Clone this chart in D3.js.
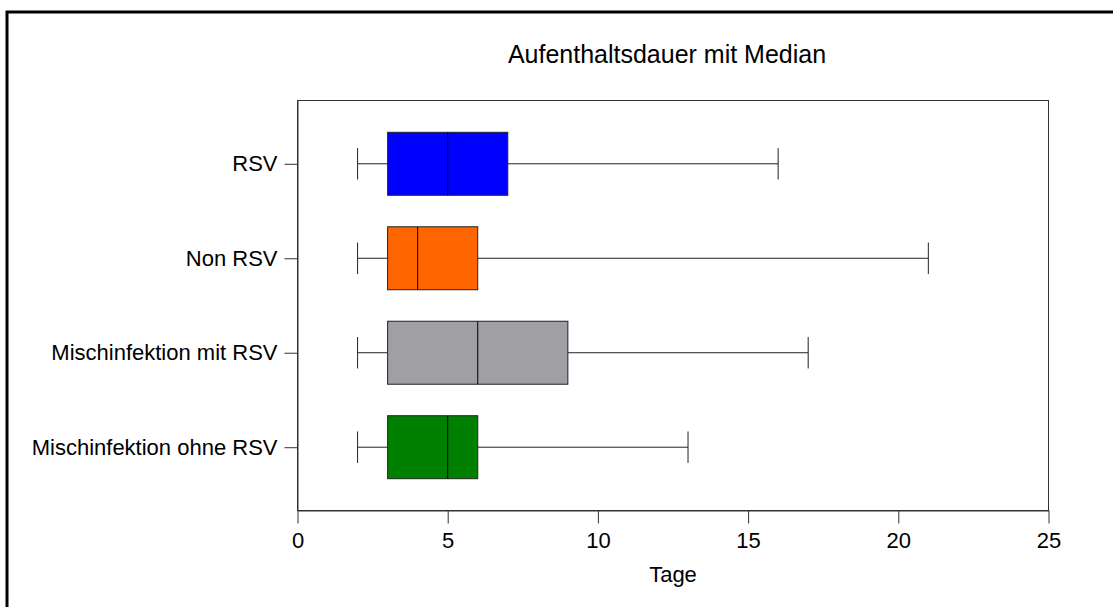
<!DOCTYPE html>
<html>
<head>
    <meta charset="utf-8">
    <title>Aufenthaltsdauer</title>
    <script src="https://d3js.org/d3.v7.min.js"></script>
    <style>
        body { margin: 0; background: #fff; }
        svg { display: block; }
    </style>
</head>
<body>
<div id="chart"></div>
<script type="text/javascript">

    // Daten
    let categories = ["RSV", "Non RSV", "Mischinfektion mit RSV", "Mischinfektion ohne RSV"];
    let whiskerMin = [2, 2, 2, 2];
    let q1 = [3, 3, 3, 3];
    let median = [5, 4, 6, 5];
    let q3 = [7, 6, 9, 6];
    let whiskerMax = [16, 21, 17, 13];
    let colors = ["#0000ff", "#ff6600", "#a09fa4", "#008000"];
    let xTicks = [0, 5, 10, 15, 20, 25];

    let W = 1113, H = 607;
    let margin = {top: 100.5, right: 64.5, bottom: 96.5, left: 297.5};
    let w = W - margin.left - margin.right;
    let h = H - margin.top - margin.bottom;
    let font = "Arial, 'Liberation Sans', sans-serif";

    let svg = d3.select("#chart")
        .append("svg")
            .attr("width", W)
            .attr("height", H);

    // äußerer Rahmen
    svg.append("rect")
        .attr("x", 7).attr("y", 12)
        .attr("width", W).attr("height", H)
        .attr("fill", "none")
        .attr("stroke", "#000")
        .attr("stroke-width", 3);

    let g = svg.append("g")
        .attr("transform", "translate(" + margin.left + "," + margin.top + ")");

    let xScale = d3.scaleLinear().domain([0, 25]).range([0, w]);
    let yScale = d3.scalePoint().domain(categories).range([0, h]).padding(0.67);
    let step = yScale.step();

    // Plotrahmen
    g.append("rect")
        .attr("width", w).attr("height", h)
        .attr("fill", "none")
        .attr("stroke", "#333")
        .attr("stroke-width", 1);

    let xAxis = d3.axisBottom(xScale).tickValues(xTicks).tickSizeInner(13).tickSizeOuter(0).tickPadding(9);
    let yAxis = d3.axisLeft(yScale).tickSizeInner(13).tickSizeOuter(0).tickPadding(7);

    let gx = g.append("g").attr("transform", "translate(0," + h + ")").call(xAxis);
    let gy = g.append("g").call(yAxis);

    [gx, gy].forEach(function(a) {
        a.select(".domain").attr("stroke", "#333");
        a.selectAll(".tick line").attr("stroke", "#333");
        a.selectAll("text")
            .attr("font-family", font)
            .attr("font-size", "22px")
            .attr("fill", "#000");
    });

    let rows = categories.map(function(c, i) {
        return {cat: c, lo: whiskerMin[i], q1: q1[i], med: median[i], q3: q3[i], hi: whiskerMax[i], color: colors[i]};
    });

    let box = g.selectAll(".box").data(rows).enter().append("g").attr("class", "box");

    // Whisker
    box.append("line")
        .attr("x1", function(d) { return xScale(d.lo); })
        .attr("x2", function(d) { return xScale(d.hi); })
        .attr("y1", function(d) { return yScale(d.cat); })
        .attr("y2", function(d) { return yScale(d.cat); })
        .attr("stroke", "#222");
    box.selectAll(".cap")
        .data(function(d) { return [{v: d.lo, cat: d.cat}, {v: d.hi, cat: d.cat}]; })
        .enter().append("line")
        .attr("x1", function(d) { return xScale(d.v); })
        .attr("x2", function(d) { return xScale(d.v); })
        .attr("y1", function(d) { return yScale(d.cat) - step / 6; })
        .attr("y2", function(d) { return yScale(d.cat) + step / 6; })
        .attr("stroke", "#222");

    // Box
    box.append("rect")
        .attr("x", function(d) { return xScale(d.q1); })
        .attr("width", function(d) { return xScale(d.q3) - xScale(d.q1); })
        .attr("y", function(d) { return yScale(d.cat) - step / 3; })
        .attr("height", step * 2 / 3)
        .attr("fill", function(d) { return d.color; })
        .attr("stroke", "#222");

    // Median
    box.append("line")
        .attr("x1", function(d) { return xScale(d.med); })
        .attr("x2", function(d) { return xScale(d.med); })
        .attr("y1", function(d) { return yScale(d.cat) - step / 3; })
        .attr("y2", function(d) { return yScale(d.cat) + step / 3; })
        .attr("stroke", "#000");

    // Titel
    svg.append("text")
        .attr("x", 667).attr("y", 63)
        .attr("text-anchor", "middle")
        .attr("font-family", font)
        .attr("font-size", "25px")
        .text("Aufenthaltsdauer mit Median");

    // Achsentitel
    svg.append("text")
        .attr("x", 673).attr("y", 582)
        .attr("text-anchor", "middle")
        .attr("font-family", font)
        .attr("font-size", "22px")
        .text("Tage");

</script>
</body>
</html>
